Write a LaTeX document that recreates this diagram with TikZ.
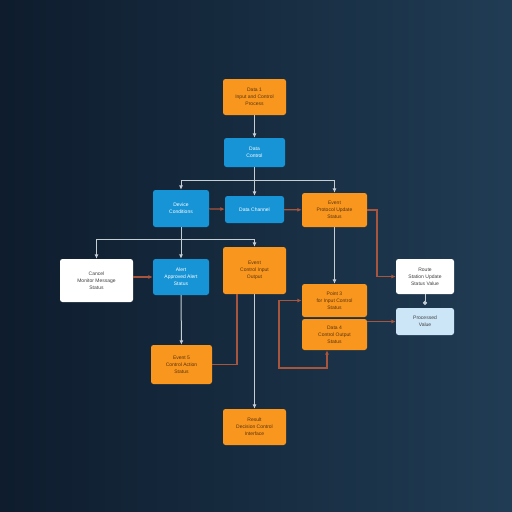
\documentclass[tikz,border=0pt]{standalone}
\usepackage{fontspec}
\setmainfont{Liberation Sans}
\usepackage{tikz}
\usetikzlibrary{calc,arrows.meta}
\definecolor{bgdark}{HTML}{0E1C2D}
\definecolor{bglight}{HTML}{203C54}
\definecolor{boxor}{HTML}{F8961E}
\definecolor{boxbl}{HTML}{1694D6}
\definecolor{boxlb}{HTML}{CDE6F7}
\definecolor{txor}{HTML}{5B3410}
\definecolor{lngrey}{HTML}{C5CDD5}
\definecolor{lnred}{HTML}{A8553D}
\tikzset{
	box/.style 2 args={rounded corners=2.5pt, minimum width=#1pt, minimum height=#2pt, inner sep=0pt, align=center, font=\fontsize{5}{7}\selectfont},
	orbox/.style={fill=boxor, text=txor},
	blbox/.style={fill=boxbl, text=white},
	whbox/.style={fill=white, text=black!75},
	lbbox/.style={fill=boxlb, text=black!75},
	gl/.style={draw=lngrey, line width=1pt},
	gla/.style={gl, -{Latex[length=4.5pt,width=4pt]}},
	rl/.style={draw=lnred, line width=1.2pt},
	rla/.style={rl, -{Latex[length=4.5pt,width=4pt]}}
}

\begin{document}
\begin{tikzpicture}[x=1pt,y=-1pt]
				%%%%% BACKGROUND %%%%%
				\shade[left color=bgdark, right color=bglight] (0,0) rectangle (512,512);
				\useasboundingbox (0,0) rectangle (512,512);

				\def\xa{96.5}
				\def\xb{181}
				\def\xc{254.5}
				\def\xd{334.5}
				\def\xe{425}

				%%%%% BOXES %%%%%
				\node[box={63}{36}, orbox] (data) at (\xc,97) {Data 1\\Input and Control\\Process};
				\node[box={61}{29}, blbox] (core) at (\xc,152.5) {Data\\Control};
				\node[box={56}{37}, blbox] (device) at (\xb,208.5) {Device\\Conditions};
				\node[box={59}{27}, blbox] (channel) at (\xc,209.5) {Data Channel};
				\node[box={65}{34}, orbox] (event) at (\xd,210) {Event\\Protocol Update\\Status};
				\node[box={73}{43}, whbox] (cancel) at (\xa,280.5) {Cancel\\Monitor Message\\Status};
				\node[box={56}{36}, blbox] (alert) at (\xb,277) {Alert\\Approved Alert\\Status};
				\node[box={63}{47}, orbox] (input) at (\xc,270.5) {Event\\Control Input\\Output};
				\node[box={65}{33}, orbox] (point) at (\xd,300.5) {Point 3\\for Input Control\\Status};
				\node[box={65}{31}, orbox] (output) at (\xd,334.5) {Data 4\\Control Output\\Status};
				\node[box={58}{35}, whbox] (route) at (\xe,276.5) {Route\\Station Update\\Status Value};
				\node[box={58}{27}, lbbox] (value) at (\xe,321.5) {Processed\\Value};
				\node[box={61}{39}, orbox] (action) at (181.5,364.5) {Event 5\\Control Action\\Status};
				\node[box={63}{36}, orbox] (result) at (\xc,427) {Result\\Decision Control\\Interface};

				%%%%% GREY LINKS %%%%%
				\coordinate (split1) at (\xc,180);
				\coordinate (split2) at (\xb,239);
				\draw[gla] (data) -- (core);
				\draw[gl] (core) -- (split1);
				\draw[gl] (device.north |- split1) -- (event.north |- split1);
				\draw[gla] (device.north |- split1) -- (device.north);
				\draw[gla] (split1) -- (channel.north);
				\draw[gla] (event.north |- split1) -- (event.north);
				\draw[gl] (device) -- (split2);
				\draw[gl] (cancel.north |- split2) -- (input.north |- split2);
				\draw[gla] (cancel.north |- split2) -- (cancel.north);
				\draw[gla] (split2) -- (alert.north);
				\draw[gla] (input.north |- split2) -- (input.north);
				\draw[gla] (alert) -- (action);
				\draw[gla] (input) -- (result);
				\draw[gla] (event) -- (point);
				\draw[gl, -{Circle[length=4pt]}] (route) -- ($(value.north)+(0,-3)$);

				%%%%% RED LINKS %%%%%
				\coordinate (ek) at (377,0);
				\coordinate (mh) at (237,0);
				\coordinate (jl) at (279,368);
				\draw[rla] (device) -- (channel);
				\draw[rla] (channel) -- (event);
				\draw[rla] (cancel.east |- alert.west) -- (alert.west);
				\draw[rla] (event.east) -| (ek |- route.west) -- (route.west);
				\draw[rla] (output.east |- value.west) -- (value.west);
				\draw[rl] (action.east) -| (mh |- input.south);
				\draw[rl, {Latex[length=4.5pt,width=4pt]}-{Latex[length=4.5pt,width=4pt]}] (point.west) -| (jl) -| ($(output.south)+(-7.5,0)$);
			\end{tikzpicture}
\end{document}
